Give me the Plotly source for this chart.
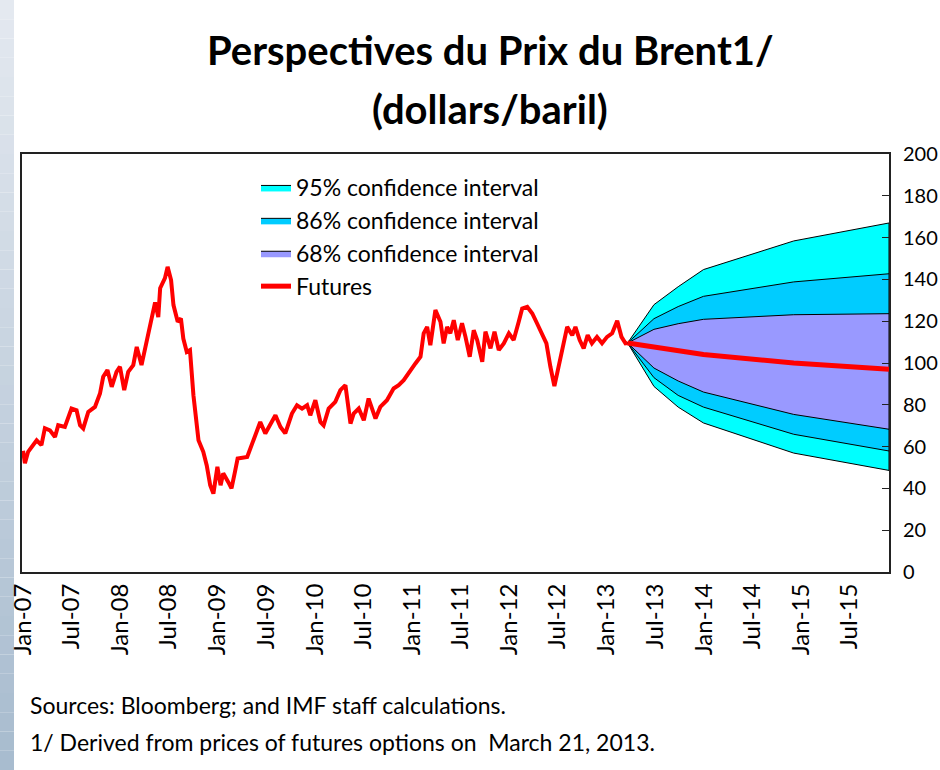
import plotly.graph_objects as go

# Brent spot history, dollars per barrel
hist_dates = [
    "2007-01-01", "2007-01-08", "2007-01-20", "2007-02-02", "2007-02-21", "2007-03-11",
    "2007-03-24", "2007-04-12", "2007-05-01", "2007-05-13", "2007-06-07", "2007-07-02",
    "2007-07-21", "2007-08-03", "2007-08-15", "2007-09-03", "2007-09-28", "2007-10-17",
    "2007-10-29", "2007-11-14", "2007-11-30", "2007-12-18", "2007-12-31", "2008-01-16",
    "2008-01-31", "2008-02-19", "2008-03-03", "2008-03-21", "2008-04-09", "2008-04-28",
    "2008-05-11", "2008-05-23", "2008-05-30", "2008-06-17", "2008-06-27", "2008-07-10",
    "2008-07-19", "2008-08-04", "2008-08-16", "2008-08-25", "2008-09-07", "2008-09-19",
    "2008-10-02", "2008-10-21", "2008-11-08", "2008-11-21", "2008-12-04", "2008-12-16",
    "2008-12-31", "2009-01-12", "2009-01-22", "2009-02-10", "2009-02-22", "2009-03-07",
    "2009-03-17", "2009-04-22", "2009-05-04", "2009-05-29", "2009-06-10", "2009-06-29",
    "2009-07-18", "2009-08-06", "2009-08-25", "2009-09-12", "2009-10-07", "2009-10-26",
    "2009-11-14", "2009-12-03", "2009-12-15", "2010-01-03", "2010-01-22", "2010-02-03",
    "2010-02-22", "2010-03-19", "2010-04-07", "2010-04-26", "2010-05-15", "2010-05-27",
    "2010-06-15", "2010-07-04", "2010-07-22", "2010-08-17", "2010-09-04", "2010-09-29",
    "2010-10-24", "2010-11-12", "2010-12-01", "2010-12-26", "2011-01-14", "2011-02-02",
    "2011-02-14", "2011-02-27", "2011-03-11", "2011-03-30", "2011-04-11", "2011-04-18",
    "2011-04-30", "2011-05-13", "2011-05-25", "2011-06-07", "2011-06-22", "2011-07-08",
    "2011-07-21", "2011-08-06", "2011-08-21", "2011-09-03", "2011-09-22", "2011-10-04",
    "2011-10-23", "2011-11-07", "2011-11-23", "2011-12-12", "2011-12-31", "2012-01-18",
    "2012-02-06", "2012-02-19", "2012-03-09", "2012-03-28", "2012-04-15", "2012-05-04",
    "2012-05-20", "2012-06-04", "2012-06-19", "2012-07-02", "2012-07-18", "2012-08-06",
    "2012-08-25", "2012-09-06", "2012-09-22", "2012-10-07", "2012-10-22", "2012-11-07",
    "2012-11-26", "2012-12-15", "2013-01-03", "2013-01-22", "2013-02-10", "2013-02-26",
    "2013-03-13", "2013-03-21",
]
hist_price = [
    58.0, 52.0, 57.5, 59.8, 63.0, 60.7,
    68.8, 67.8, 64.6, 70.2, 69.4, 78.2,
    77.4, 70.2, 68.7, 76.6, 79.0, 85.4,
    93.4, 96.6, 88.6, 95.8, 98.2, 87.0,
    95.8, 99.0, 107.7, 99.0, 110.0, 121.0,
    129.0, 122.0, 135.8, 140.6, 146.0, 139.7,
    127.7, 119.7, 121.3, 111.7, 105.3, 106.2,
    84.6, 63.0, 57.5, 51.0, 41.5, 37.5,
    50.3, 41.5, 47.2, 43.0, 40.0, 47.9,
    54.3, 55.0, 59.0, 67.8, 71.8, 66.3,
    71.0, 75.0, 69.4, 66.3, 75.8, 79.8,
    78.2, 79.8, 75.0, 82.2, 71.8, 70.2,
    78.2, 81.4, 87.0, 89.4, 71.0, 75.8,
    78.2, 72.6, 83.0, 73.4, 79.0, 82.2,
    87.8, 89.4, 91.8, 96.6, 99.8, 103.0,
    114.2, 117.3, 108.5, 125.3, 121.3, 119.7,
    109.4, 117.3, 114.2, 120.5, 111.0, 119.0,
    112.5, 103.0, 115.7, 111.0, 100.6, 115.0,
    107.0, 115.0, 106.2, 109.4, 114.2, 111.0,
    119.7, 126.1, 126.9, 123.7, 118.9, 114.2,
    109.4, 98.2, 88.9, 96.6, 106.2, 117.3,
    113.3, 117.3, 111.0, 107.0, 113.3, 109.4,
    112.5, 109.4, 112.5, 114.2, 120.2, 112.5,
    109.4, 109.6,
]

# futures curve and option-implied bands (March 21, 2013)
fan_dates = ["2013-03-21", "2013-06-28", "2013-09-27", "2013-12-31", "2014-12-05", "2015-11-28"]
futures = [109.6, 107.7, 106.1, 104.1, 100.0, 97.0]
upper_95 = [109.6, 127.9, 136.5, 144.7, 158.4, 167.0]
upper_86 = [109.6, 121.2, 127.0, 131.9, 138.8, 142.7]
upper_68 = [109.6, 116.1, 118.8, 120.9, 123.1, 123.6]
lower_68 = [109.6, 97.6, 91.4, 86.1, 75.4, 68.3]
lower_86 = [109.6, 93.0, 84.5, 78.9, 65.9, 57.9]
lower_95 = [109.6, 88.8, 78.9, 71.3, 56.9, 48.6]

bands = [
    ("95% confidence interval", upper_95, lower_95, "#00FFFF"),
    ("86% confidence interval", upper_86, lower_86, "#00CCFF"),
    ("68% confidence interval", upper_68, lower_68, "#9999FF"),
]

FONT = "Lato, Roboto, sans-serif"

fig = go.Figure()

for i, (name, up, lo, col) in enumerate(bands):
    fig.add_trace(go.Scatter(
        x=fan_dates + fan_dates[::-1],
        y=up + lo[::-1],
        fill="toself",
        fillcolor=col,
        line=dict(color="black", width=1),
        mode="lines",
        name=name,
        legendgroup=f"g{i}",
        hoverinfo="skip",
    ))

fig.add_trace(go.Scatter(
    x=hist_dates, y=hist_price, mode="lines",
    line=dict(color="#FF0000", width=4),
    showlegend=False,
))
fig.add_trace(go.Scatter(
    x=fan_dates, y=futures, mode="lines",
    line=dict(color="#FF0000", width=5),
    name="Futures", legendgroup="g3",
))

# plot area in pixels
W, H = 940, 770
L, R, T, B = 22, 51, 154, 198
pw, ph = W - L - R, H - T - B


def px_x(p):
    return (p - L) / pw


def px_y(p):
    return (H - B - p) / ph


# left gradient strip, light at top to blue-grey at bottom
shapes = []
n = 40
for k in range(n):
    f = k / (n - 1)
    r = int(228 + (168 - 228) * f)
    g = int(233 + (188 - 233) * f)
    b = int(240 + (207 - 240) * f)
    shapes.append(dict(
        type="rect", xref="paper", yref="paper", layer="below",
        x0=px_x(0), x1=px_x(14),
        y0=px_y(H * (k + 1) / n), y1=px_y(H * k / n),
        fillcolor=f"rgb({r},{g},{b})", line=dict(width=0),
    ))


def note(text, x, y, size, anchor="center"):
    return dict(text=text, x=px_x(x), y=px_y(y), xref="paper", yref="paper",
                xanchor=anchor, yanchor="middle", showarrow=False,
                font=dict(size=size, family=FONT))


fig.update_layout(
    width=W, height=H,
    margin=dict(l=L, r=R, t=T, b=B),
    paper_bgcolor="white", plot_bgcolor="white",
    font=dict(family=FONT, color="black", size=20),
    shapes=shapes,
    showlegend=True,
    legend=dict(
        x=px_x(256), y=px_y(166), xanchor="left", yanchor="top",
        bgcolor="rgba(0,0,0,0)", font=dict(size=23, family=FONT),
        tracegroupgap=14, traceorder="normal",
    ),
    annotations=[
        note("<b>Perspectives du Prix du Brent1/</b>", 490, 50, 40),
        note("<b>(dollars/baril)</b>", 490, 109, 40),
        note("Sources: Bloomberg; and IMF staff calculations.", 28, 705, 23, "left"),
        note("1/ Derived from prices of futures options on  March 21, 2013.", 28, 742, 23, "left"),
    ],
)

fig.update_xaxes(
    range=["2006-12-28", "2015-11-28"],
    tick0="2007-01-01", dtick="M6", tickformat="%b-%y", tickangle=-90,
    ticks="", showgrid=False, zeroline=False,
    showline=True, mirror=True, linecolor="#222", linewidth=2,
    tickfont=dict(size=24), automargin=False,
)
fig.update_yaxes(
    range=[0, 200], dtick=20, side="right",
    ticks="inside", ticklen=7, tickcolor="#222", tickwidth=1,
    showgrid=False, zeroline=False,
    showline=True, mirror=True, linecolor="#222", linewidth=2,
    tickfont=dict(size=20), ticklabelstandoff=8, automargin=False,
)

fig.write_html("out.html", config={"displayModeBar": False},
               post_script="document.body.style.margin='0';")
